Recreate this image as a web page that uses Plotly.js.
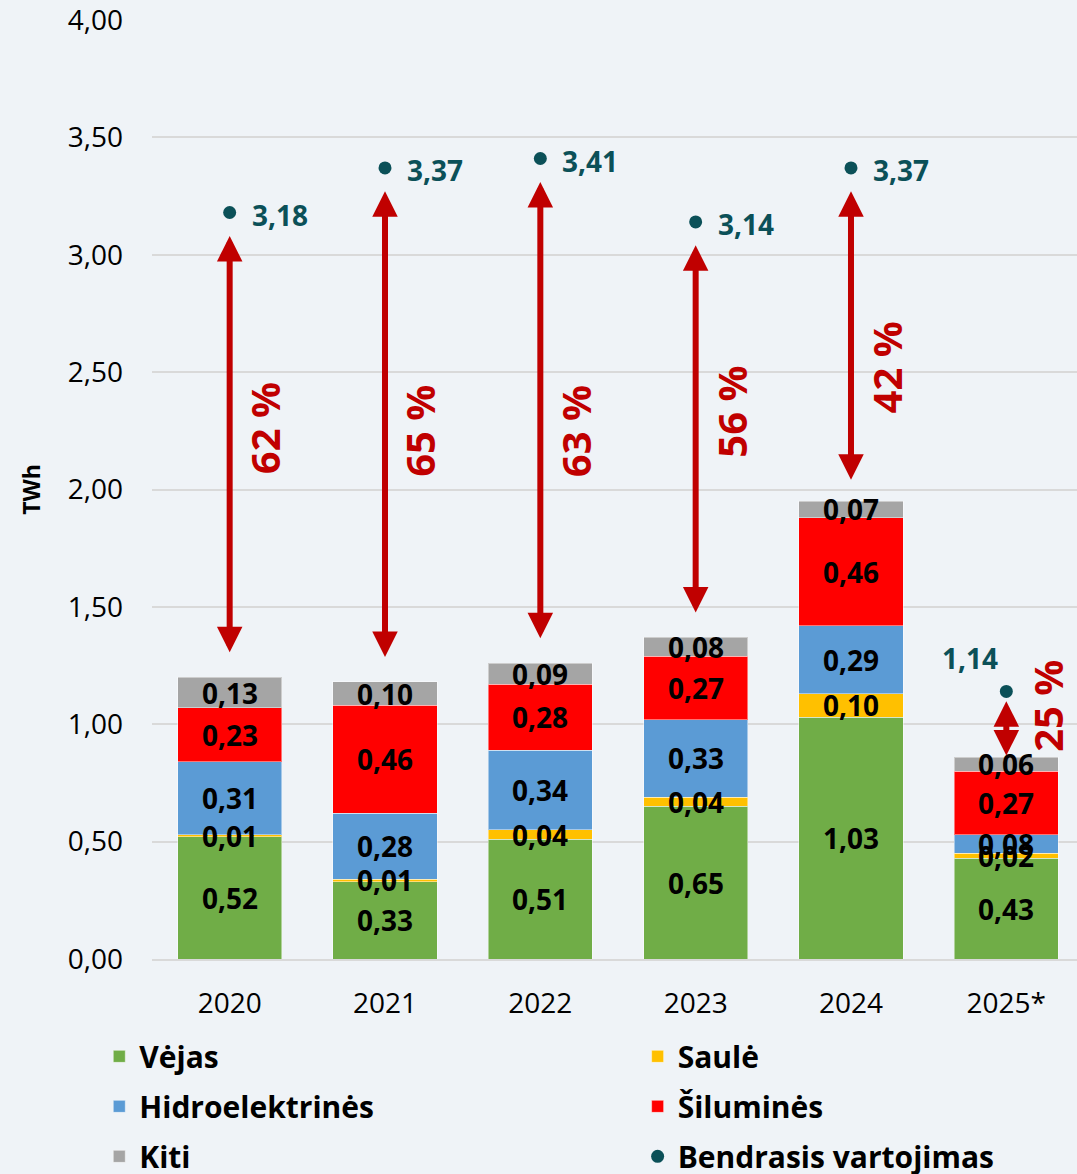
<!DOCTYPE html>
<html>
<head>
<meta charset="utf-8">
<script src="https://cdn.plot.ly/plotly-3.0.1.min.js"></script>
<style>html,body{margin:0;padding:0;background:#EFF3F7;}</style>
</head>
<body>
<div id="chart" style="width:1077px;height:1174px;"></div>
<script>
// ---- data ----
const years = ['2020', '2021', '2022', '2023', '2024', '2025*'];
const vejas = [0.52, 0.33, 0.51, 0.65, 1.03, 0.43];
const saule = [0.01, 0.01, 0.04, 0.04, 0.10, 0.02];
const hidro = [0.31, 0.28, 0.34, 0.33, 0.29, 0.08];
const siluma = [0.23, 0.46, 0.28, 0.27, 0.46, 0.27];
const kiti = [0.13, 0.10, 0.09, 0.08, 0.07, 0.06];
const vartojimas = [3.18, 3.37, 3.41, 3.14, 3.37, 1.14];
const dalis = [62, 65, 63, 56, 42, 25];

// ---- styling ----
const FONT = 'Open Sans, Noto Sans, sans-serif';
const idx = years.map((_, i) => i);
const fmt = v => v.toFixed(2).replace('.', ',');

const series = [
  {name: 'Vėjas', vals: vejas, color: '#70AD47', legend: 'legend'},
  {name: 'Saulė', vals: saule, color: '#FFC000', legend: 'legend2'},
  {name: 'Hidroelektrinės', vals: hidro, color: '#5B9BD5', legend: 'legend'},
  {name: 'Šiluminės', vals: siluma, color: '#FF0000', legend: 'legend2'},
  {name: 'Kiti', vals: kiti, color: '#A5A5A5', legend: 'legend'}
];

const traces = [];
const annotations = [];
const base = idx.map(() => 0);
series.forEach((s, k) => {
  traces.push({
    type: 'bar', x: idx, y: s.vals, name: s.name,
    marker: {color: s.color, line: {width: 1, color: 'rgba(255,255,255,0.45)'}},
    legend: s.legend, legendgroup: 'g' + k, hoverinfo: 'skip'
  });
  s.vals.forEach((v, i) => {
    annotations.push({
      x: i, y: base[i] + v / 2, xref: 'x', yref: 'y', text: fmt(v), showarrow: false,
      font: {family: FONT, size: 28, color: '#000000', weight: 700}
    });
    base[i] += v;
  });
});
const totals = base.slice();

traces.push({
  type: 'scatter', mode: 'markers', x: idx, y: vartojimas, name: 'Bendrasis vartojimas',
  marker: {color: '#0B5058', size: 13}, legend: 'legend2', legendgroup: 'g5', hoverinfo: 'skip'
});

// consumption labels
vartojimas.forEach((v, i) => {
  const last = i === years.length - 1;
  annotations.push({
    x: i, y: v, xref: 'x', yref: 'y', text: fmt(v), showarrow: false,
    xanchor: last ? 'center' : 'left', xshift: last ? -36 : 20, yshift: last ? 33 : -2,
    font: {family: FONT, size: 28, color: '#0B5058', weight: 700}
  });
});

// arrows + percentage labels
const pctY = [2.26, 2.25, 2.25, 2.33, 2.52, 1.08];
vartojimas.forEach((v, i) => {
  const diff = v - totals[i];
  const topGap = Math.min(0.1, 0.15 * diff);
  const botGap = diff > 0.5 ? Math.min(0.1, 0.06 * diff) : 0;
  annotations.push({
    x: i, y: v - topGap, ax: i, ay: totals[i] + botGap,
    xref: 'x', yref: 'y', axref: 'x', ayref: 'y', text: '',
    showarrow: true, arrowside: 'end+start', arrowhead: 2, startarrowhead: 2,
    arrowsize: 0.85, startarrowsize: 0.85, arrowwidth: 6, arrowcolor: '#C00000'
  });
  annotations.push({
    x: i, y: pctY[i], xref: 'x', yref: 'y', text: dalis[i] + ' %', showarrow: false,
    textangle: -90, xshift: i === years.length - 1 ? 41 : 35,
    font: {family: FONT, size: 40, color: '#C00000', weight: 700}
  });
});

const legendBase = {
  orientation: 'v', xanchor: 'left', yanchor: 'top', y: -0.076,
  traceorder: 'grouped', tracegroupgap: 8, bgcolor: 'rgba(0,0,0,0)',
  font: {family: FONT, size: 30, color: '#000000', weight: 700}
};

const layout = {
  width: 1077, height: 1174,
  margin: {l: 152, r: 0, t: 20, b: 215, autoexpand: false},
  paper_bgcolor: '#EFF3F7', plot_bgcolor: '#EFF3F7',
  separators: ',.',
  barmode: 'stack', bargap: 0.33,
  showlegend: true,
  xaxis: {
    range: [-0.5, 5.455], tickvals: idx, ticktext: years, automargin: false,
    showgrid: false, zeroline: false, showline: true, linecolor: '#D9D9D9', linewidth: 2,
    ticks: '', ticklabelstandoff: 18, ticklabeloverflow: 'allow',
    tickfont: {family: FONT, size: 28, color: '#000000'}
  },
  yaxis: {
    range: [0, 4], tickvals: [0, 0.5, 1, 1.5, 2, 2.5, 3, 3.5, 4], tickformat: '.2f', automargin: false,
    showgrid: true, gridcolor: '#D9D9D9', gridwidth: 2, zeroline: false,
    ticks: '', ticklabelstandoff: 28, ticklabeloverflow: 'allow',
    tickfont: {family: FONT, size: 28, color: '#000000'},
    title: {text: 'TWh', standoff: 20, font: {family: FONT, size: 23, color: '#000000', weight: 700}}
  },
  legend: Object.assign({}, legendBase, {x: -0.057}),
  legend2: Object.assign({}, legendBase, {x: 0.525}),
  annotations: annotations
};

Plotly.newPlot('chart', traces, layout, {displayModeBar: false, staticPlot: true});
</script>
</body>
</html>
